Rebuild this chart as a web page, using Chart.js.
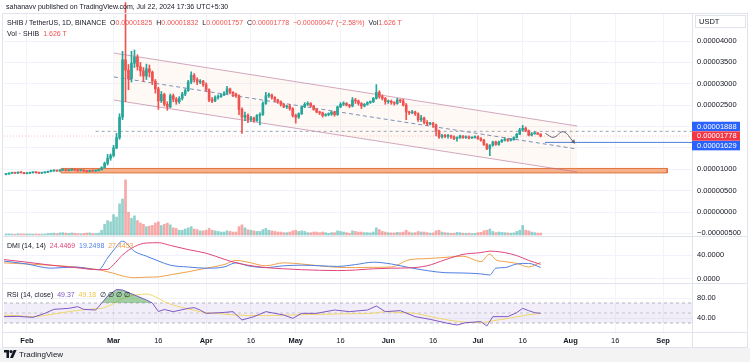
<!DOCTYPE html>
<html>
<head>
<meta charset="utf-8">
<script src="https://cdn.jsdelivr.net/npm/chart.js@4.4.1/dist/chart.umd.min.js"></script>
<style>
  body { margin: 0; width: 750px; height: 362px; position: relative; overflow: hidden; background: #fff; }
  #c { position: absolute; left: 0; top: 0; }
  .txt { position: absolute; font: 7px "Liberation Sans", Arial, sans-serif; color: #131722; white-space: pre; line-height: 9px; }
  .r { color: #ef5350; }
  #foot { position: absolute; left: 0; top: 348px; width: 750px; height: 14px; background: #f3f3f3; }
</style>
</head>
<body>
<div id="foot"></div>
<canvas id="c" width="750" height="362"></canvas>
<div class="txt" style="left:6px;top:2px">sahanavv published on TradingView.com, Jul 22, 2024 17:36 UTC+5:30</div>
<div class="txt" style="left:7px;top:18px">SHIB / TetherUS, 1D, BINANCE  O<span class="r">0.00001825</span>  H<span class="r">0.00001832</span>  L<span class="r">0.00001757</span>  C<span class="r">0.00001778</span>  <span class="r">−0.00000047 (−2.58%)</span>  Vol<span class="r">1.626 T</span></div>
<div class="txt" style="left:7px;top:29px">Vol · SHIB  <span class="r">1.626 T</span></div>
<div class="txt" style="left:7px;top:241px">DMI (14, 14)  <span style="color:#e0457b">24.4469</span>  <span style="color:#4f7fe0">19.2498</span>  <span style="color:#f0a04b">27.4453</span></div>
<div class="txt" style="left:7px;top:290px">RSI (14, close)  <span style="color:#7e57c2">49.37</span>  <span style="color:#e8c84a">49.18</span>  ∅ ∅ ∅ ∅</div>
<div class="txt" style="left:4px;top:350px;font-size:8px;line-height:10px"><svg width="13" height="8" style="vertical-align:-1px"><path d="M0 0h5v8h-2.5v-5.5h-2.5z" fill="#131722"/><circle cx="7" cy="1.6" r="1.6" fill="#131722"/><path d="M9.6 0h3l-3.6 8h-3z" fill="#131722"/></svg> TradingView</div>
<script>
// SHIB/USDT daily, values in 1e-6 USDT, first candle = Jan 25 2024 (day -7, day 0 = Feb 1)
const firstDay = -7;
const firstOpen = 8.8;
const closes = [
  8.9, 9.1, 9.2, 9.1, 9.3, 9.2, 9.0, 9.1, 9.2, 9.3,
  9.2, 9.1, 9.2, 9.3, 9.5, 9.6, 9.7, 9.6, 9.8, 9.9,
  9.7, 9.8, 9.9, 9.8, 9.7, 9.8, 9.6, 9.5, 9.7, 9.6,
  9.7, 9.9, 10.4, 11.4, 12.6, 13.2, 15.0, 17.4, 22.2, 35.6,
  33.2, 31.2, 34.8, 36.2, 34.0, 33.0, 31.8, 33.5, 32.7, 30.6,
  28.8, 26.0, 27.5, 25.2, 24.6, 27.2, 26.4, 25.8, 26.6, 27.6,
  28.4, 30.4, 32.0, 31.0, 30.4, 30.6, 29.8, 28.6, 26.2, 26.0,
  26.8, 27.0, 27.4, 27.8, 28.8, 28.0, 27.6, 27.2, 24.0, 22.2,
  22.6, 21.6, 22.0, 21.4, 22.6, 22.8, 25.4, 27.2, 27.4, 26.8,
  26.2, 25.8, 25.2, 24.6, 24.8, 24.2, 22.6, 22.2, 23.0, 24.6,
  25.2, 25.4, 24.8, 24.0, 23.4, 23.2, 22.6, 22.8, 22.9, 23.4,
  22.8, 24.6, 25.2, 25.4, 25.0, 24.8, 26.2, 26.0, 25.4, 24.8,
  25.2, 25.6, 25.8, 26.6, 28.0, 27.0, 26.6, 25.8, 25.9, 25.6,
  25.4, 26.2, 26.0, 25.0, 23.4, 23.2, 23.4, 23.0, 21.6, 22.0,
  21.0, 20.6, 20.8, 20.4, 19.0, 17.6, 17.9, 17.7, 17.8, 17.6,
  17.2, 17.4, 17.8, 17.4, 17.6, 17.3, 17.4, 17.6, 17.2, 16.8,
  15.8, 14.8, 15.6, 16.4, 15.8, 16.4, 16.8, 17.0, 16.8, 16.9,
  17.4, 18.2, 19.2, 19.6, 19.0, 18.0, 18.3, 18.5, 18.25, 17.78
];
const highs = [
  9.0, 9.2, 9.3, 9.3, 9.4, 9.4, 9.3, 9.2, 9.3, 9.4,
  9.4, 9.3, 9.3, 9.4, 9.6, 9.8, 9.9, 9.8, 9.9, 10.1,
  10.0, 9.9, 10.1, 10.0, 9.9, 9.9, 9.9, 9.7, 9.8, 9.8,
  9.8, 10.0, 10.6, 11.7, 13.5, 13.6, 15.6, 18.4, 23.0, 37.6,
  49.0, 34.5, 37.6, 37.9, 36.8, 35.0, 33.8, 34.6, 34.4, 33.0,
  31.0, 29.2, 28.2, 27.8, 25.8, 27.6, 27.6, 26.8, 27.0, 28.0,
  28.8, 30.8, 32.8, 32.4, 31.4, 31.0, 30.8, 30.2, 28.8, 26.8,
  27.2, 27.4, 27.6, 28.2, 29.4, 29.0, 28.2, 27.8, 27.4, 24.4,
  23.4, 23.0, 22.4, 22.2, 22.8, 23.2, 25.8, 28.0, 27.8, 27.6,
  27.0, 26.4, 26.0, 25.4, 25.0, 25.2, 24.4, 22.9, 23.2, 24.8,
  25.6, 25.8, 25.6, 25.0, 24.2, 23.6, 23.4, 23.0, 23.2, 23.6,
  23.6, 24.8, 25.6, 25.8, 25.6, 25.2, 26.8, 26.6, 26.2, 25.6,
  25.4, 25.8, 26.0, 26.8, 29.8, 28.4, 27.4, 26.8, 26.2, 26.2,
  25.8, 26.6, 26.4, 26.4, 25.4, 23.6, 23.8, 23.6, 23.2, 22.6,
  22.2, 21.4, 21.0, 21.0, 20.6, 19.2, 18.2, 18.2, 18.2, 18.0,
  17.8, 17.6, 18.0, 17.9, 17.8, 17.8, 17.6, 17.8, 17.8, 17.4,
  17.0, 16.0, 15.8, 16.6, 16.6, 16.6, 17.0, 17.4, 17.2, 17.1,
  17.6, 18.4, 19.6, 20.3, 19.9, 19.2, 18.6, 18.8, 18.6, 18.32
];
const lows = [
  8.7, 8.8, 9.0, 9.0, 9.0, 9.1, 8.9, 8.9, 9.0, 9.1,
  9.1, 9.0, 9.0, 9.1, 9.2, 9.4, 9.5, 9.5, 9.5, 9.7,
  9.6, 9.6, 9.7, 9.7, 9.5, 9.6, 9.5, 9.3, 9.4, 9.5,
  9.5, 9.6, 9.8, 10.3, 11.0, 12.1, 12.9, 14.8, 17.0, 21.6,
  25.8, 28.6, 30.4, 33.8, 33.2, 31.8, 30.6, 31.0, 31.6, 29.8,
  27.8, 24.0, 25.6, 24.8, 23.8, 24.4, 25.8, 25.2, 25.4, 26.2,
  27.2, 28.2, 30.0, 30.4, 29.8, 30.0, 29.4, 28.2, 25.8, 25.6,
  25.8, 26.4, 26.8, 27.2, 27.6, 27.6, 27.0, 26.8, 22.8, 18.4,
  21.4, 20.9, 21.2, 21.0, 21.2, 20.4, 22.6, 25.2, 26.8, 26.4,
  25.8, 25.4, 24.8, 24.4, 24.2, 23.8, 22.2, 20.8, 21.9, 22.8,
  24.4, 24.9, 24.6, 23.8, 23.2, 22.8, 22.2, 22.4, 22.5, 22.6,
  22.4, 22.6, 24.4, 24.9, 24.8, 24.4, 24.6, 25.4, 25.0, 24.2,
  24.6, 25.0, 25.4, 25.6, 26.4, 26.6, 26.2, 25.2, 25.4, 25.2,
  25.0, 25.2, 25.6, 24.8, 21.6, 22.8, 23.0, 22.6, 21.2, 21.2,
  20.6, 20.2, 20.4, 19.8, 17.8, 17.2, 17.3, 17.4, 17.3, 17.2,
  16.9, 16.6, 17.2, 17.2, 17.2, 17.1, 17.2, 17.3, 17.0, 16.6,
  15.6, 14.6, 13.2, 15.4, 15.6, 15.6, 16.3, 16.6, 16.5, 16.6,
  16.8, 17.3, 18.1, 19.0, 18.8, 17.8, 17.8, 18.2, 18.1, 17.57
];
// volume in trillions of SHIB
const volumes = [
  0.8, 0.9, 0.7, 0.6, 1.0, 0.9, 0.8, 0.9, 0.8, 0.7,
  0.8, 0.7, 0.7, 0.8, 1.2, 1.4, 1.6, 1.2, 1.8, 2.0,
  1.6, 1.4, 1.8, 1.5, 1.2, 1.0, 1.4, 1.6, 1.8, 1.3,
  1.2, 1.6, 4.0, 9.0, 12.0, 11.0, 17.0, 15.0, 26.0, 30.0,
  46.0, 19.0, 14.0, 16.0, 12.0, 10.0, 9.0, 7.0, 7.5, 8.0,
  10.0, 11.0, 8.0, 9.0, 10.0, 8.5, 6.0, 5.5, 4.0, 4.0,
  5.0, 6.0, 7.0, 5.0, 4.5, 3.5, 3.5, 4.0, 5.5, 4.0,
  3.5, 3.0, 2.5, 2.5, 3.5, 3.0, 2.5, 2.5, 7.0, 8.5,
  6.0, 4.5, 4.0, 3.5, 3.0, 3.0, 4.5, 5.5, 4.0, 3.5,
  3.0, 2.5, 2.5, 2.0, 2.0, 2.5, 3.5, 4.0, 3.0, 3.5,
  3.0, 2.0, 2.0, 2.5, 2.5, 2.0, 2.5, 2.0, 1.5, 2.0,
  2.0, 3.5, 3.0, 2.5, 2.0, 1.5, 3.5, 3.0, 2.5, 2.5,
  2.0, 2.0, 1.8, 2.5, 6.0, 4.5, 3.0, 2.5, 2.0, 1.8,
  1.8, 2.2, 2.0, 2.5, 4.0, 2.5, 1.8, 2.0, 3.0, 2.5,
  2.5, 2.0, 1.6, 1.8, 3.5, 4.0, 2.5, 2.0, 1.8, 1.5,
  1.5, 2.2, 2.0, 1.6, 1.5, 1.6, 1.2, 1.4, 2.0, 2.2,
  3.5, 4.0, 5.0, 3.0, 2.0, 2.5, 2.2, 2.0, 1.8, 1.6,
  1.8, 3.0, 4.0, 8.0, 4.0, 3.5, 2.5, 2.0, 1.6, 1.626
];

// DMI (14, 14)
const dmiDays = [-8, 0, 8, 16, 24, 27, 29, 32, 36, 40, 44, 48, 54, 60, 66, 70, 74, 80, 86, 92, 98, 104, 110, 116, 122, 128, 134, 140, 146, 152, 155, 157, 160, 164, 168, 172];
const adx = [32.5, 28, 23, 19, 15.5, 16, 24, 40, 54, 60, 60.5, 56, 49, 43, 33, 27, 23, 19, 17, 15.5, 14.5, 14, 15, 17, 18, 18.5, 22, 32, 41, 44, 46.5, 46, 44, 39, 31, 24.4469];
const diPlus = [30, 25, 18, 20, 15.5, 35, 48, 63, 46, 38, 30, 23, 20, 18, 20, 27, 22, 19, 22, 23, 22, 21, 24, 28, 25, 19, 14, 10.5, 10, 8.5, 6.7, 18, 19, 25, 26, 19.2498];
const diMinus = [27, 25, 23, 20, 15.5, 12, 9.5, 5, 2.2, 3, 3.5, 7, 12, 18, 24, 31, 28, 22, 27, 25, 22, 19.5, 19, 19.5, 20, 32, 34, 36, 38, 29, 41.5, 32, 29, 26, 20, 27.4453];

// RSI (14, close) and its MA
const rsiDays = [-8, -3, 2, 6, 9, 14, 17, 19, 23, 25, 27, 30, 32, 36, 40, 42, 44, 46, 49, 54, 56, 58, 60, 65, 69, 72, 76, 80, 86, 89, 92, 97, 103, 108, 114, 117, 120, 125, 130, 135, 141, 144, 147, 152, 154, 156, 161, 164, 166, 168, 170, 172];
const rsi = [42.7, 43.3, 41.3, 49.3, 57.3, 59.3, 62.7, 57.3, 56, 69.3, 84, 97, 96, 86, 76, 70, 53, 57, 52.7, 59.3, 60.7, 56, 49.3, 50.7, 52.7, 36, 42.7, 52.7, 46, 39.3, 49.3, 49.3, 56, 52.7, 56, 64, 52.7, 54.7, 42.7, 37.3, 29.3, 26, 30.7, 32.7, 24, 42.7, 42.7, 50.7, 59.3, 54.7, 50.7, 49.37];
const rsiMa = [46, 44.5, 42.7, 45, 48, 52.7, 55, 56.5, 58.5, 59.3, 63, 72, 79, 85.5, 88, 85, 79.3, 72.5, 66, 58, 55.5, 52.7, 51, 48.5, 46, 45.5, 45, 44.7, 45.5, 46, 46.5, 47.2, 48, 48.5, 49, 50.5, 52.7, 51, 49.3, 43, 36, 33.5, 31.5, 31, 32, 34.5, 39, 42.5, 44.5, 46.5, 48, 49.18];

// time axis
const tickDays = [0, 29, 44, 60, 75, 90, 105, 121, 136, 151, 166, 182, 197, 213];
const tickLabels = ['Feb', 'Mar', '16', 'Apr', '16', 'May', '16', 'Jun', '16', 'Jul', '16', 'Aug', '16', 'Sep'];
const priceTicks = [-5, 0, 5, 10, 15, 20, 25, 30, 35, 40];
const hiddenPriceTicks = [15, 20];
const dmiTicks = [0, 40];
const rsiTicks = [40, 80];

// drawings on the price pane
const channelDays = [29.1, 184.3];
const channelUpper = [37.19, 20.12];
const channelLower = [26.2, 9.36];
const channelMid = [31.6, 14.74];
const zoneDays = [11.4, 214.4];
const zoneTop = 10.2;
const zoneBottom = 9.15;
const levelDashed = 18.88;
const levelBlue = 16.29;
const lastPrice = 17.78;
const pathDays = [173.6, 176.3, 179.6, 183.0];
const pathPrices = [18.41, 17.47, 18.78, 16.44];

// right-axis price tags
const tagValues = [18.88, 17.78, 16.29];
const tagColors = ['#2962ff', '#f23645', '#2962ff'];

const xMin = -7.69, xMax = 222.7;
const up = '#26a69a', down = '#ef5350';
const opens = closes.map((c, i) => (i ? closes[i - 1] : firstOpen));
const days = closes.map((c, i) => firstDay + i);
const isUp = i => closes[i] >= opens[i];
const pts = (xs, ys) => xs.map((x, i) => ({ x: x, y: ys[i] }));
const fmtPrice = v => (v / 1e6).toFixed(8).replace('-', '−');

Chart.defaults.font.family = '"Liberation Sans", Arial, sans-serif';
Chart.defaults.font.size = 7.5;
Chart.defaults.color = '#131722';

const paneFrame = {
  id: 'paneFrame',
  afterDraw(chart) {
    const { ctx, chartArea: a, scales } = chart;
    const W = chart.width;
    ctx.save();
    ctx.strokeStyle = '#e0e3eb';
    ctx.lineWidth = 1;
    const line = (x0, y0, x1, y1) => { ctx.beginPath(); ctx.moveTo(x0, y0); ctx.lineTo(x1, y1); ctx.stroke(); };
    ctx.strokeRect(2.5, 13.5, W - 5, a.bottom + 15 - 13);
    line(a.right + 0.5, 13.5, a.right + 0.5, a.bottom + 15.5);
    line(2.5, a.bottom + 0.5, W - 2.5, a.bottom + 0.5);
    line(2.5, Math.round(scales.y.bottom) + 0.5, W - 2.5, Math.round(scales.y.bottom) + 0.5);
    line(2.5, Math.round(scales.yd.bottom) + 0.5, W - 2.5, Math.round(scales.yd.bottom) + 0.5);
    // currency box
    ctx.strokeRect(a.right + 3.5, 15.5, 50, 12);
    ctx.fillStyle = '#131722';
    ctx.font = '7.5px "Liberation Sans", Arial, sans-serif';
    ctx.textBaseline = 'middle';
    ctx.fillText('USDT', a.right + 7, 22);
    // price tags, pushed apart so they do not overlap
    const pos = tagValues.map(v => scales.y.getPixelForValue(v));
    pos[0] = Math.min(pos[0], pos[1] - 9.6);
    pos[2] = Math.max(pos[2], pos[1] + 9.6);
    tagValues.forEach((v, i) => {
      ctx.fillStyle = tagColors[i];
      ctx.fillRect(a.right, pos[i] - 4.7, 48, 9.4);
      ctx.fillStyle = '#fff';
      ctx.fillText(fmtPrice(v), a.right + 5, pos[i] + 0.4);
    });
    ctx.restore();
  }
};

const axisWidth = s => { s.width = 55; };
const grid = { color: '#f0f3fa', drawTicks: false };

new Chart(document.getElementById('c'), {
  type: 'bar',
  data: {
    datasets: [
      {
        type: 'line', data: pts(pathDays, pathPrices), yAxisID: 'y',
        borderColor: '#5a6378', borderWidth: 1, tension: 0.4,
        pointRadius: [0, 0, 0, 2.6], pointStyle: 'triangle', pointRotation: 140,
        pointBackgroundColor: '#5a6378', pointBorderWidth: 0
      },
      {
        data: days.map((d, i) => ({ x: d, y: [opens[i], closes[i]] })), yAxisID: 'y',
        backgroundColor: c => (isUp(c.dataIndex) ? up : down),
        barThickness: 2, minBarLength: 1, grouped: false
      },
      {
        data: days.map((d, i) => ({ x: d, y: [lows[i], highs[i]] })), yAxisID: 'y',
        backgroundColor: c => (isUp(c.dataIndex) ? up : down),
        barThickness: 1, grouped: false, clip: false
      },
      {
        data: days.map((d, i) => ({ x: d, y: volumes[i] })), yAxisID: 'yv',
        backgroundColor: c => (isUp(c.dataIndex) ? 'rgba(38,166,154,0.5)' : 'rgba(239,83,80,0.5)'),
        barThickness: 2, grouped: false
      },
      {
        type: 'line', data: pts([173.5, xMax], [levelBlue, levelBlue]), yAxisID: 'y',
        borderColor: '#4d7fdb', borderWidth: 1, pointRadius: 0
      },
      {
        type: 'line', data: pts([23, xMax], [levelDashed, levelDashed]), yAxisID: 'y',
        borderColor: '#9ea3b0', borderWidth: 1, borderDash: [3, 3], pointRadius: 0
      },
      {
        type: 'line', data: pts([xMin, xMax], [lastPrice, lastPrice]), yAxisID: 'y',
        borderColor: 'rgba(239,83,80,0.35)', borderWidth: 1, borderDash: [1, 2], pointRadius: 0
      },
      {
        type: 'line', data: pts(channelDays, channelMid), yAxisID: 'y',
        borderColor: '#7d8fb8', borderWidth: 1, borderDash: [4, 3], pointRadius: 0
      },
      {
        type: 'line', data: pts(channelDays, channelUpper), yAxisID: 'y',
        borderColor: 'rgba(180,110,150,0.6)', borderWidth: 1, pointRadius: 0
      },
      {
        type: 'line', data: pts(channelDays, channelLower), yAxisID: 'y',
        borderColor: 'rgba(180,110,150,0.6)', borderWidth: 1, pointRadius: 0,
        fill: '-1', backgroundColor: 'rgba(255,170,110,0.07)'
      },
      {
        type: 'line', yAxisID: 'y',
        data: pts([zoneDays[0], zoneDays[1], zoneDays[1], zoneDays[0], zoneDays[0]],
                  [zoneTop, zoneTop, zoneBottom, zoneBottom, zoneTop]),
        borderColor: '#e0733f', borderWidth: 1, pointRadius: 0,
        fill: 'shape', backgroundColor: '#f6b08a'
      },
      // DMI pane
      { type: 'line', data: pts(dmiDays, adx), yAxisID: 'yd', borderColor: '#e0457b', borderWidth: 1, pointRadius: 0, cubicInterpolationMode: 'monotone' },
      { type: 'line', data: pts(dmiDays, diPlus), yAxisID: 'yd', borderColor: '#4f7fe0', borderWidth: 1, pointRadius: 0, cubicInterpolationMode: 'monotone' },
      { type: 'line', data: pts(dmiDays, diMinus), yAxisID: 'yd', borderColor: '#f0a04b', borderWidth: 1, pointRadius: 0, cubicInterpolationMode: 'monotone' },
      // RSI pane
      {
        type: 'line', data: pts(rsiDays, rsi), yAxisID: 'yr', borderColor: '#7e57c2', borderWidth: 1, pointRadius: 0,
        fill: { target: { value: 70 }, above: 'rgba(67,160,71,0.5)', below: 'rgba(0,0,0,0)' }
      },
      { type: 'line', data: pts(rsiDays, rsiMa), yAxisID: 'yr', borderColor: '#f0d66a', borderWidth: 1, pointRadius: 0, cubicInterpolationMode: 'monotone' },
      { type: 'line', data: pts([xMin, xMax], [70, 70]), yAxisID: 'yr', borderColor: '#b2b5be', borderWidth: 1, borderDash: [3, 3], pointRadius: 0 },
      { type: 'line', data: pts([xMin, xMax], [50, 50]), yAxisID: 'yr', borderColor: '#c4c6cd', borderWidth: 1, borderDash: [3, 3], pointRadius: 0 },
      {
        type: 'line', data: pts([xMin, xMax], [30, 30]), yAxisID: 'yr', borderColor: '#b2b5be', borderWidth: 1, borderDash: [3, 3], pointRadius: 0,
        fill: { target: { value: 70 } }, backgroundColor: 'rgba(126,87,194,0.1)'
      }
    ]
  },
  options: {
    responsive: false,
    animation: false,
    layout: { padding: { left: 3, top: 14, right: 3, bottom: 15 } },
    plugins: { legend: { display: false }, tooltip: { enabled: false } },
    scales: {
      x: {
        type: 'linear', position: 'bottom', min: xMin, max: xMax, offset: false,
        grid: { color: '#f3f4f8', drawTicks: false, offset: false },
        border: { display: false },
        afterBuildTicks: s => { s.ticks = tickDays.map(v => ({ value: v })); },
        afterFit: s => { s.height = 15; },
        ticks: {
          autoSkip: false, maxRotation: 0, padding: 4,
          callback: (v, i) => tickLabels[i],
          font: c => ({ size: 7.5, weight: tickLabels[c.index] === '16' ? 'normal' : 'bold' })
        }
      },
      y: {
        type: 'linear', position: 'right', stack: 'panes', stackWeight: 222, weight: 1,
        min: -5.6, max: 46.32, grid: grid, border: { display: false },
        afterBuildTicks: s => { s.ticks = priceTicks.map(v => ({ value: v })); },
        afterFit: axisWidth,
        ticks: { padding: 5, callback: v => (hiddenPriceTicks.includes(v) ? '' : fmtPrice(v)) }
      },
      yd: {
        type: 'linear', position: 'right', stack: 'panes', stackWeight: 47, weight: 2,
        min: -6.7, max: 71.7, grid: grid, border: { display: false },
        afterBuildTicks: s => { s.ticks = dmiTicks.map(v => ({ value: v })); },
        afterFit: axisWidth,
        ticks: { padding: 5, callback: v => v.toFixed(4) }
      },
      yr: {
        type: 'linear', position: 'right', stack: 'panes', stackWeight: 49, weight: 3,
        min: 12, max: 110, grid: grid, border: { display: false },
        afterBuildTicks: s => { s.ticks = rsiTicks.map(v => ({ value: v })); },
        afterFit: axisWidth,
        ticks: { padding: 5, callback: v => v.toFixed(2) }
      },
      yv: { type: 'linear', position: 'left', display: false, min: -80.8, max: 184.2 }
    }
  },
  plugins: [paneFrame]
});
</script>
</body>
</html>
